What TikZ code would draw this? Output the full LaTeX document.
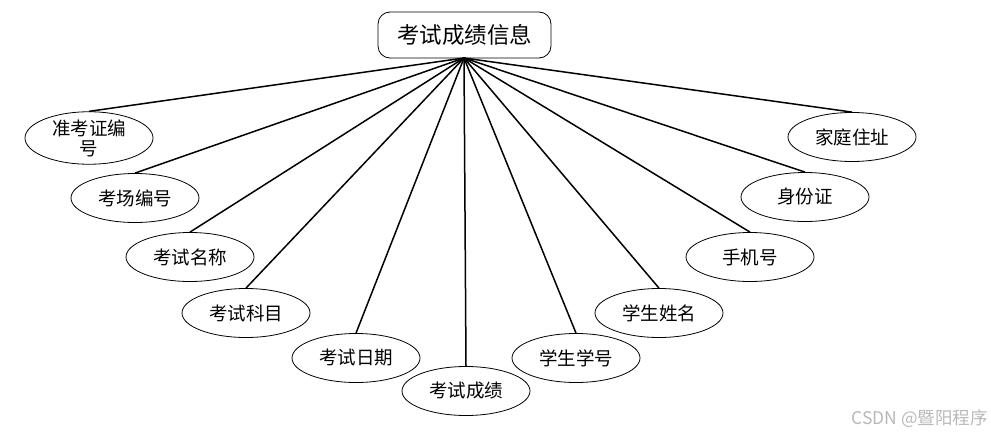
\documentclass[tikz,border=0pt]{standalone}
\usepackage{fontspec}
\usetikzlibrary{shapes.geometric}
\setmainfont{Liberation Serif}
\newfontfamily\cjk{Noto Sans CJK SC}
\begin{document}
\begin{tikzpicture}[x=1pt,y=-1pt,
  attr/.style={draw, ellipse, line width=0.8pt, minimum width=128pt, minimum height=49pt, inner sep=0pt, font=\cjk\fontsize{18.5}{20}\selectfont, align=center},
  ent/.style={draw, rounded corners=12pt, line width=0.8pt, minimum width=173pt, minimum height=46pt, inner sep=0pt, font=\cjk\fontsize{22.5}{24}\selectfont},
  conn/.style={line width=1.5pt}]
\useasboundingbox (0,0) rectangle (991,439);
\node[ent] (e) at (464.5,35) {考试成绩信息};
\coordinate (hub) at (464,58);
\node[attr] (a1) at (89,138) {准考证编\\号};
\node[attr] (a2) at (135,198) {考场编号};
\node[attr] (a3) at (190,257) {考试名称};
\node[attr] (a4) at (246,313) {考试科目};
\node[attr] (a5) at (356,358) {考试日期};
\node[attr] (a6) at (466,391) {考试成绩};
\node[attr] (a7) at (576,358) {学生学号};
\node[attr] (a8) at (659,313) {学生姓名};
\node[attr] (a9) at (750,257) {手机号};
\node[attr] (a10) at (805,197) {身份证};
\node[attr] (a11) at (852,137) {家庭住址};
\foreach \n in {a1,a2,a3,a4,a5,a6,a7,a8,a9,a10,a11}
  \draw[conn] (hub) -- (\n.north);
\node[font=\cjk\fontsize{17.5}{19}\selectfont, text=black!28, anchor=east, inner sep=0pt] (wm) at (988,419) {CSDN @暨阳程序};
\end{tikzpicture}
\end{document}
